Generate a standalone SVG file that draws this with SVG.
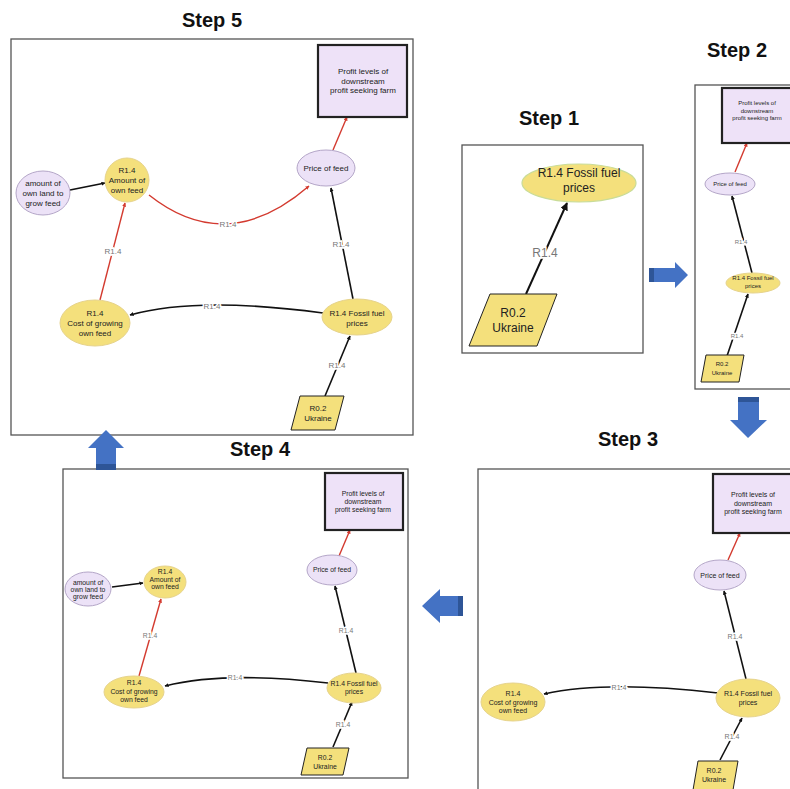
<svg xmlns="http://www.w3.org/2000/svg" width="790" height="789" viewBox="0 0 790 789">
<style>
text{font-family:"Liberation Sans",Arial,sans-serif;fill:#222;text-anchor:middle}
.title{font-size:20px;font-weight:bold;fill:#111}
.panel{fill:#fff;stroke:#555;stroke-width:1.3}
.y{fill:#f4e07c;stroke:#e6d38c;stroke-width:1}
.l{fill:#ece2f7;stroke:#b4a6c8;stroke-width:1}
.pf{fill:#eee2f8;stroke:#222;stroke-width:2.2}
.pg{fill:#f4e07c;stroke:#222;stroke-width:1}
.eb{fill:none;stroke:#111;stroke-width:1.6}
.er{fill:none;stroke:#d33a2f;stroke-width:1.4}
.el{fill:#777;stroke:#fff;stroke-width:3;paint-order:stroke}
.ba{fill:#4472c4}
.bd{fill:#2e5597}
.s5{font-size:8px}
.s2{font-size:6px}
.s3{font-size:7px}
.s4{font-size:6.8px}
</style>
<defs>
<marker id="ab" viewBox="0 0 10 10" refX="9" refY="5" markerWidth="4" markerHeight="4" markerUnits="userSpaceOnUse" orient="auto"><path d="M0,0 L10,5 L0,10 z" fill="#111"/></marker>
<marker id="ar" viewBox="0 0 10 10" refX="9" refY="5" markerWidth="4" markerHeight="4" markerUnits="userSpaceOnUse" orient="auto"><path d="M0,0 L10,5 L0,10 z" fill="#d33a2f"/></marker>
<marker id="ab1" viewBox="0 0 10 10" refX="9" refY="5" markerWidth="8" markerHeight="8" markerUnits="userSpaceOnUse" orient="auto"><path d="M0,0 L10,5 L0,10 z" fill="#111"/></marker>
</defs>

<!-- ================= STEP 5 ================= -->
<g id="step5">
<text class="title" x="212" y="27">Step 5</text>
<rect class="panel" x="11" y="39" width="402" height="396"/>
<g id="s5-connectors">
<path class="er" d="M333,150 L347,117" marker-end="url(#ar)"/>
<path class="eb" d="M70,190 L105,183" marker-end="url(#ab)"/>
<path class="er" d="M149,195 Q227,257 309,186" marker-end="url(#ar)"/>
<text class="el s5" x="228" y="227">R1.4</text>
<path class="er" d="M100,300 L125,203" marker-end="url(#ar)"/>
<text class="el s5" x="113" y="254">R1.4</text>
<path class="eb" d="M353,299 L331,188" marker-end="url(#ab)"/>
<text class="el s5" x="341" y="247">R1.4</text>
<path class="eb" d="M323,313 Q197,296 130,315" marker-end="url(#ab)"/>
<text class="el s5" x="212" y="309">R1.4</text>
<path class="eb" d="M325,396 L350,336" marker-end="url(#ab)"/>
<text class="el s5" x="337" y="368">R1.4</text>
</g>
<g id="s5-profit"><rect class="pf" x="318" y="45" width="89" height="72"/>
<text class="s5" x="363" y="74">Profit levels of</text><text class="s5" x="363" y="84">downstream</text><text class="s5" x="363" y="93">profit seeking farm</text></g>
<g id="s5-price"><ellipse class="l" cx="326" cy="168" rx="29" ry="18"/><text class="s5" x="326" y="171">Price of feed</text></g>
<g id="s5-amount"><ellipse class="y" cx="127" cy="180" rx="22" ry="22"/>
<text class="s5" x="127" y="173">R1.4</text><text class="s5" x="127" y="183">Amount of</text><text class="s5" x="127" y="193">own feed</text></g>
<g id="s5-land"><ellipse class="l" cx="43" cy="193" rx="27" ry="22"/>
<text class="s5" x="43" y="186">amount of</text><text class="s5" x="43" y="196">own land to</text><text class="s5" x="43" y="206">grow feed</text></g>
<g id="s5-cost"><ellipse class="y" cx="95" cy="323" rx="35" ry="23"/>
<text class="s5" x="95" y="316">R1.4</text><text class="s5" x="95" y="326">Cost of growing</text><text class="s5" x="95" y="336">own feed</text></g>
<g id="s5-fossil"><ellipse class="y" cx="357" cy="317" rx="35" ry="18"/>
<text class="s5" x="357" y="316">R1.4 Fossil fuel</text><text class="s5" x="357" y="326">prices</text></g>
<g id="s5-ukraine"><polygon class="pg" points="300,396 344,396 335,430 291,430"/>
<text class="s5" x="318" y="411">R0.2</text><text class="s5" x="318" y="421">Ukraine</text></g>
</g>

<!-- ================= STEP 1 ================= -->
<g id="step1">
<text class="title" x="549" y="125">Step 1</text>
<rect class="panel" x="462" y="145" width="181" height="208"/>
<g id="s1-connectors">
<path class="eb" d="M526,294 L567,203" marker-end="url(#ab1)" style="stroke-width:2"/>
<text class="el" x="545" y="257" style="font-size:12px">R1.4</text>
</g>
<g id="s1-fossil"><ellipse cx="579" cy="183" rx="57" ry="19" fill="#f4e07c" stroke="#c9dc98" stroke-width="1.2"/>
<text x="579" y="177" style="font-size:12px">R1.4 Fossil fuel</text><text x="579" y="192" style="font-size:12px">prices</text></g>
<g id="s1-ukraine"><polygon class="pg" points="490,294 557,294 537,346 469,346"/>
<text x="513" y="317" style="font-size:12px">R0.2</text><text x="513" y="332" style="font-size:12px">Ukraine</text></g>
</g>

<!-- ================= STEP 2 ================= -->
<g id="step2">
<text class="title" x="737" y="57">Step 2</text>
<rect class="panel" x="695" y="85" width="120" height="304"/>
<g id="s2-connectors">
<path class="er" d="M735,172 L747,143" marker-end="url(#ar)"/>
<path class="eb" d="M752,273 L732,196" marker-end="url(#ab)"/>
<text class="el s2" x="741" y="244">R1.4</text>
<path class="eb" d="M727,356 L748,294" marker-end="url(#ab)"/>
<text class="el s2" x="737" y="338">R1.4</text>
</g>
<g id="s2-profit"><rect class="pf" x="722" y="88" width="80" height="55"/>
<text class="s2" x="757" y="105">Profit levels of</text><text class="s2" x="757" y="113">downstream</text><text class="s2" x="757" y="120">profit seeking farm</text></g>
<g id="s2-price"><ellipse class="l" cx="730" cy="184" rx="25" ry="11"/><text class="s2" x="730" y="186">Price of feed</text></g>
<g id="s2-fossil"><ellipse class="y" cx="753" cy="283" rx="27" ry="10"/>
<text class="s2" x="753" y="280">R1.4 Fossil fuel</text><text class="s2" x="753" y="288">prices</text></g>
<g id="s2-ukraine"><polygon class="pg" points="706,355 744,355 739,382 701,382"/>
<text class="s2" x="722" y="366">R0.2</text><text class="s2" x="722" y="375">Ukraine</text></g>
</g>

<!-- ================= STEP 3 ================= -->
<g id="step3">
<text class="title" x="628" y="446">Step 3</text>
<rect class="panel" x="478" y="469" width="340" height="340"/>
<g id="s3-connectors">
<path class="er" d="M728,560 L740,533" marker-end="url(#ar)"/>
<path class="eb" d="M746,679 L724,591" marker-end="url(#ab)"/>
<text class="el s3" x="735" y="639">R1.4</text>
<path class="eb" d="M720,760 L742,718" marker-end="url(#ab)"/>
<text class="el s3" x="732" y="739">R1.4</text>
<path class="eb" d="M718,693 Q607,680 544,694" marker-end="url(#ab)"/>
<text class="el s3" x="619" y="690">R1.4</text>
</g>
<g id="s3-profit"><rect class="pf" x="713" y="474" width="90" height="59"/>
<text class="s3" x="753" y="497">Profit levels of</text><text class="s3" x="753" y="506">downstream</text><text class="s3" x="753" y="514">profit seeking farm</text></g>
<g id="s3-price"><ellipse class="l" cx="720" cy="575" rx="26" ry="15"/><text class="s3" x="720" y="578">Price of feed</text></g>
<g id="s3-fossil"><ellipse class="y" cx="748" cy="698" rx="32" ry="19"/>
<text class="s3" x="748" y="696">R1.4 Fossil fuel</text><text class="s3" x="748" y="705">prices</text></g>
<g id="s3-cost"><ellipse class="y" cx="513" cy="702" rx="32" ry="19"/>
<text class="s3" x="513" y="696">R1.4</text><text class="s3" x="513" y="705">Cost of growing</text><text class="s3" x="513" y="713">own feed</text></g>
<g id="s3-ukraine"><polygon class="pg" points="698,761 738,761 733,790 693,790"/>
<text class="s3" x="714" y="773">R0.2</text><text class="s3" x="714" y="782">Ukraine</text></g>
</g>

<!-- ================= STEP 4 ================= -->
<g id="step4">
<text class="title" x="260" y="456">Step 4</text>
<rect class="panel" x="63" y="469" width="345" height="309"/>
<g id="s4-connectors">
<path class="er" d="M339,556 L350,530" marker-end="url(#ar)"/>
<path class="eb" d="M112,587 L143,583" marker-end="url(#ab)"/>
<path class="er" d="M139,676 L161,599" marker-end="url(#ar)"/>
<text class="el s4" x="150" y="638">R1.4</text>
<path class="eb" d="M356,673 L335,586" marker-end="url(#ab)"/>
<text class="el s4" x="346" y="633">R1.4</text>
<path class="eb" d="M328,683 Q225,671 165,686" marker-end="url(#ab)"/>
<text class="el s4" x="235" y="680">R1.4</text>
<path class="eb" d="M333,747 L352,702" marker-end="url(#ab)"/>
<text class="el s4" x="343" y="727">R1.4</text>
</g>
<g id="s4-profit"><rect class="pf" x="325" y="473" width="78" height="57"/>
<text class="s4" x="363" y="496">Profit levels of</text><text class="s4" x="363" y="504">downstream</text><text class="s4" x="363" y="512">profit seeking farm</text></g>
<g id="s4-price"><ellipse class="l" cx="332" cy="570" rx="25" ry="15"/><text class="s4" x="332" y="572">Price of feed</text></g>
<g id="s4-amount"><ellipse class="y" cx="165" cy="582" rx="21" ry="16"/>
<text class="s4" x="165" y="574">R1.4</text><text class="s4" x="165" y="582">Amount of</text><text class="s4" x="165" y="589">own feed</text></g>
<g id="s4-land"><ellipse class="l" cx="88" cy="589" rx="23" ry="17"/>
<text class="s4" x="88" y="585">amount of</text><text class="s4" x="88" y="592">own land to</text><text class="s4" x="88" y="599">grow feed</text></g>
<g id="s4-cost"><ellipse class="y" cx="134" cy="692" rx="30" ry="16"/>
<text class="s4" x="134" y="685">R1.4</text><text class="s4" x="134" y="694">Cost of growing</text><text class="s4" x="134" y="702">own feed</text></g>
<g id="s4-fossil"><ellipse class="y" cx="354" cy="688" rx="27" ry="15"/>
<text class="s4" x="354" y="686">R1.4 Fossil fuel</text><text class="s4" x="354" y="694">prices</text></g>
<g id="s4-ukraine"><polygon class="pg" points="307,748 349,748 343,775 301,775"/>
<text class="s4" x="325" y="760">R0.2</text><text class="s4" x="325" y="769">Ukraine</text></g>
</g>

<!-- ================= BLOCK ARROWS ================= -->
<g id="arrow-1-2"><polygon class="ba" points="649,268 675,268 675,262 688,275 675,288 675,282 649,282"/><rect class="bd" x="649" y="268" width="5" height="14"/></g>
<g id="arrow-2-3"><polygon class="ba" points="738,397 759,397 759,420 767,420 748,438 730,420 738,420"/><rect class="bd" x="738" y="397" width="21" height="5"/></g>
<g id="arrow-3-4"><polygon class="ba" points="463,596 440,596 440,589 422,606 440,623 440,616 463,616"/><rect class="bd" x="458" y="596" width="5" height="20"/></g>
<g id="arrow-4-5"><polygon class="ba" points="96,470 96,448 88,448 106,430 124,448 116,448 116,470"/><rect class="bd" x="96" y="464" width="20" height="6"/></g>
</svg>
